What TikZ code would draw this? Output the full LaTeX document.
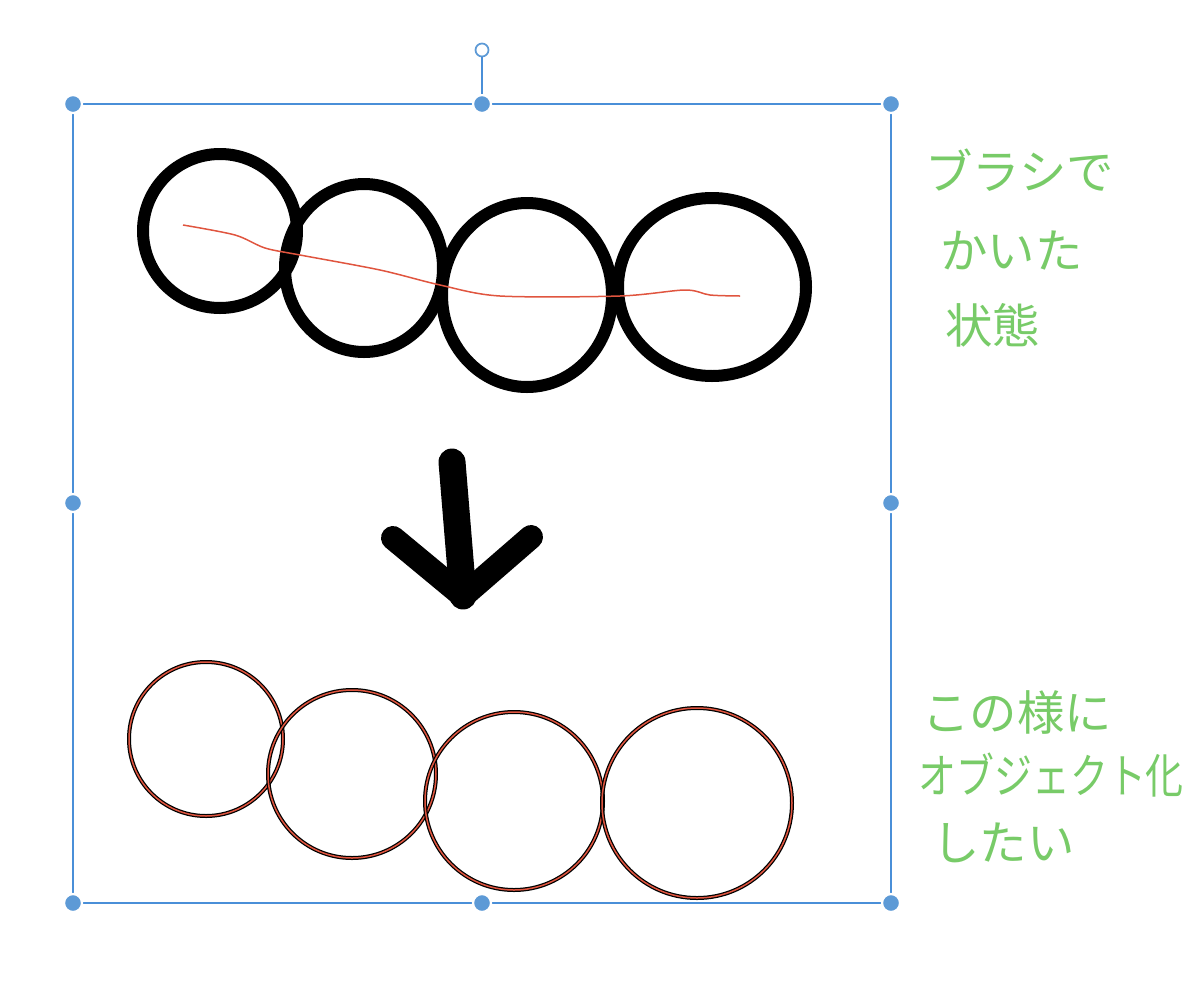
\documentclass[tikz,border=0pt]{standalone}
\usepackage{fontspec}
\newfontfamily\jpfont{Noto Sans CJK JP}
\usetikzlibrary{positioning}
\definecolor{selblue}{HTML}{4A8FD8}
\definecolor{handle}{HTML}{5D9AD6}
\definecolor{note}{HTML}{78CB68}
\definecolor{penred}{HTML}{E0553F}

\begin{document}
\begin{tikzpicture}[
			x=0.02cm, y=-0.02cm,
			brush/.style={line width=0.24cm},
			guide/.style={draw=penred, line width=0.03cm},
			outline/.style={draw=black, line width=0.08cm},
			inner/.style={draw=penred, line width=0.03cm},
			frame/.style={draw=selblue, line width=0.035cm},
			grip/.style={circle, fill=handle, draw=white, line width=0.045cm, minimum size=0.36cm, inner sep=0pt},
			turn/.style={circle, fill=white, draw=handle, line width=0.035cm, minimum size=0.26cm, inner sep=0pt},
			memo/.style={note, anchor=west, inner sep=0pt}
			]
			\useasboundingbox (0,0) rectangle (1200,994);
			% brushed circles
			\draw[brush] (220,231) ellipse [x radius=77, y radius=77];
			\draw[brush] (364,268) ellipse [x radius=79, y radius=84];
			\draw[brush] (527,295) ellipse [x radius=85, y radius=92];
			\draw[brush] (712,287) ellipse [x radius=94, y radius=89];
			\path[guide] plot[smooth] coordinates {(183,225) (235,235) (265,248) (300,255) (380,270) (440,285) (500,296) (620,296) (685,290) (710,295) (740,296)};
			% arrow
			\coordinate (top) at (452,462);
			\coordinate (tip) at (463,596);
			\coordinate (lw) at (393,538);
			\coordinate (rw) at (531,537);
			\draw[line width=0.54cm, line cap=round] (top) -- (tip);
			\draw[line width=0.48cm, line cap=round, line join=round] (lw) -- (tip) -- (rw);
			% object circles
			\foreach \cx/\cy/\r in {206/739/77, 352/774/84, 514/801/89, 697/803/95}{
				\path[outline] (\cx,\cy) circle [radius=\r];
				\path[inner] (\cx,\cy) circle [radius=\r];
			}
			% selection frame
			\coordinate (rot) at (482,50);
			\path[frame] (73,104) rectangle (891,903);
			\node[grip] (nw) at (73,104) {};
			\node[grip] (n) at (482,104) {};
			\node[grip] (ne) at (891,104) {};
			\node[grip] (w) at (73,503) {};
			\node[grip] (e) at (891,503) {};
			\node[grip] (sw) at (73,903) {};
			\node[grip] (s) at (482,903) {};
			\node[grip] (se) at (891,903) {};
			\node[turn] (r) at (rot) {};
			\path[frame] (r) -- (n);
			% notes
			\node[memo, font=\jpfont\fontsize{27}{27}\selectfont] (m1) at (925,170) {ブラシで};
			\node[memo, font=\jpfont\fontsize{27}{27}\selectfont] (m2) at (940,250) {かいた};
			\node[memo, font=\jpfont\fontsize{27}{27}\selectfont] (m3) at (945,325) {状態};
			\node[memo, font=\jpfont\fontsize{27}{27}\selectfont] (m4) at (922,712) {この様に};
			\node[memo, font=\jpfont\fontsize{27}{27}\selectfont, xscale=0.8] (m5) at (918,775) {オブジェクト化};
			\node[memo, font=\jpfont\fontsize{27}{27}\selectfont] (m6) at (932,843) {したい};
		\end{tikzpicture}
\end{document}
